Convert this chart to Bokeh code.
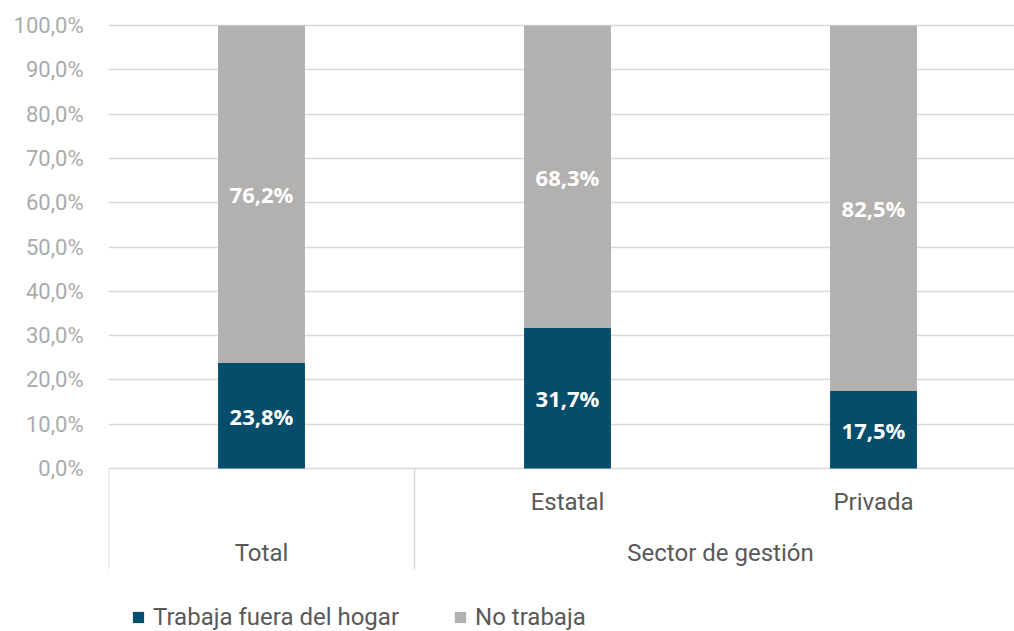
from bokeh.plotting import figure
from bokeh.models import ColumnDataSource, FixedTicker, Legend, LegendItem
from bokeh.core.properties import value
from bokeh.embed import file_html
from bokeh.resources import INLINE

# ---- data ----
categories = ["Total", "Estatal", "Privada"]
group_labels = ["Sector de gestión"]
series_names = ["Trabaja fuera del hogar", "No trabaja"]
trabaja = [23.8, 31.7, 17.5]
no_trabaja = [76.2, 68.3, 82.5]
y_ticks = [0, 10, 20, 30, 40, 50, 60, 70, 80, 90, 100]
y_tick_labels = ["0,0%", "10,0%", "20,0%", "30,0%", "40,0%", "50,0%",
                 "60,0%", "70,0%", "80,0%", "90,0%", "100,0%"]

def fmt(v):
    return ("%.1f%%" % v).replace(".", ",")

BLUE = "#044e6c"
GRAY = "#b2b1b0"
GRID = "#d9d9d9"
TXT = "#595959"

xs = list(range(len(categories)))
src = ColumnDataSource(dict(
    x=xs,
    trabaja=trabaja,
    no_trabaja=no_trabaja,
    top_all=[a + b for a, b in zip(trabaja, no_trabaja)],
    mid_t=[a / 2 for a in trabaja],
    mid_n=[a + b / 2 for a, b in zip(trabaja, no_trabaja)],
    lab_t=[fmt(v) for v in trabaja],
    lab_n=[fmt(v) for v in no_trabaja],
))

W, H = 1014, 631
LEFT, TOP = 108, 15
PX = 4.43  # pixels per percentage point
frame_w = W - LEFT
frame_h = H - TOP
y_end = 100 + 10 / PX
y_start = y_end - frame_h / PX

p = figure(width=W, height=H, output_backend="svg", toolbar_location=None,
           x_range=(-0.5, -0.5 + frame_w / 306), y_range=(y_start, y_end),
           x_axis_location=None, min_border_left=LEFT, min_border_right=0,
           min_border_top=TOP, min_border_bottom=0, outline_line_color=None,
           background_fill_color="white", border_fill_color="white")

# y axis
ax = p.yaxis[0]
ax.ticker = FixedTicker(ticks=y_ticks)
ax.major_label_overrides = {t: l for t, l in zip(y_ticks, y_tick_labels)}
ax.axis_line_color = None
ax.major_tick_line_color = None
ax.minor_tick_line_color = None
ax.major_label_standoff = 19
ax.major_label_text_font = "Roboto"
ax.major_label_text_font_size = "22px"
ax.major_label_text_color = "#ababab"

p.xgrid.visible = False
p.ygrid.grid_line_color = GRID
p.ygrid.grid_line_width = 1.5

# bars
r1 = p.vbar(x="x", width=0.284, bottom=0, top="trabaja", source=src,
            fill_color=BLUE, line_color=None)
r2 = p.vbar(x="x", width=0.284, bottom="trabaja", top="top_all", source=src,
            fill_color=GRAY, line_color=None)

# value labels
for ycol, tcol in (("mid_t", "lab_t"), ("mid_n", "lab_n")):
    p.text(x="x", y=ycol, text=tcol, source=src, text_align="center",
           text_baseline="middle", text_color="white",
           text_font=value("Open Sans"), text_font_style="bold",
           text_font_size="22px")

# category axis (multi-level, drawn in data space below zero)
p.segment(x0=[-0.5, 0.5], y0=[0, 0], x1=[-0.5, 0.5], y1=[-22.8, -22.8],
          line_color=GRID, line_width=1.5)
p.text(x=xs[1:], y=[-7.5, -7.5], text=categories[1:], text_align="center",
       text_baseline="middle", text_color=TXT, text_font=value("Roboto"),
       text_font_size="24px")
p.text(x=[0, 1.5], y=[-19, -19], text=[categories[0], group_labels[0]],
       text_align="center", text_baseline="middle", text_color=TXT,
       text_font=value("Roboto"), text_font_size="24px")

legend = Legend(items=[LegendItem(label=series_names[0], renderers=[r1]),
                       LegendItem(label=series_names[1], renderers=[r2])],
                orientation="horizontal", location=(23, 0),
                border_line_color=None, background_fill_alpha=0,
                padding=0, margin=0, spacing=54, glyph_width=14,
                glyph_height=14, label_standoff=8, label_height=22,
                label_text_font="Roboto", label_text_font_size="24px",
                label_text_color=TXT)
p.add_layout(legend, "center")

open("out.html", "w").write(file_html(p, INLINE))
